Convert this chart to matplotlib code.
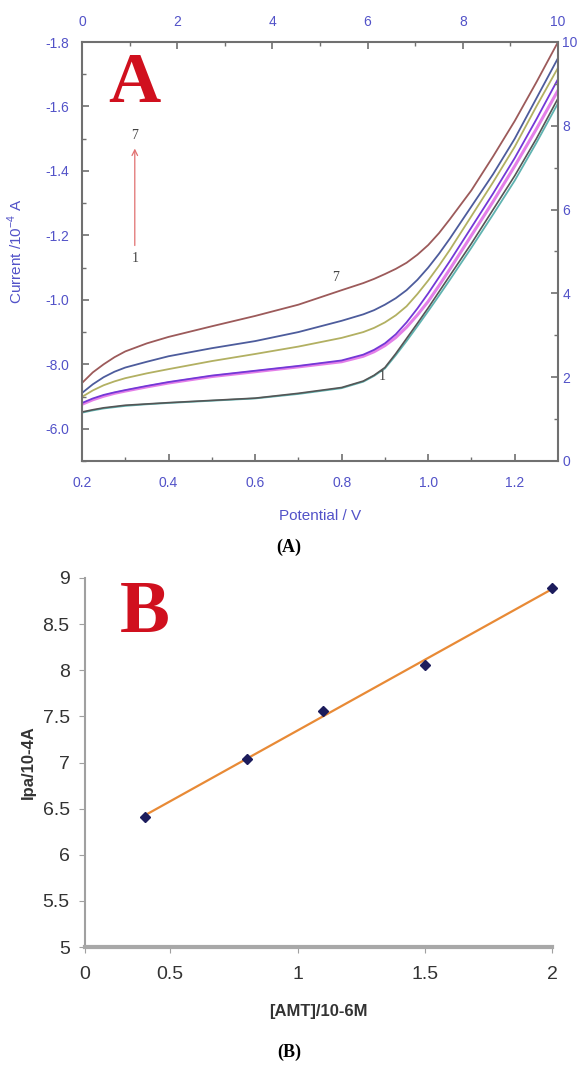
import numpy as np
import matplotlib.pyplot as plt

# ---- panel A data ----
pot = [0.2, 0.225, 0.25, 0.275, 0.3, 0.35, 0.4, 0.5, 0.6, 0.7, 0.8, 0.85, 0.875, 0.9,
       0.925, 0.95, 0.975, 1.0, 1.025, 1.05, 1.1, 1.15, 1.2, 1.25, 1.3]
cur_7 = [-0.742, -0.775, -0.800, -0.822, -0.840, -0.865, -0.885, -0.918, -0.950, -0.985,
         -1.030, -1.052, -1.065, -1.080, -1.096, -1.115, -1.140, -1.170, -1.207, -1.250,
         -1.340, -1.445, -1.555, -1.675, -1.800]
cur_6 = [-0.711, -0.738, -0.760, -0.777, -0.790, -0.808, -0.825, -0.850, -0.872, -0.900,
         -0.935, -0.955, -0.968, -0.985, -1.005, -1.030, -1.062, -1.100, -1.143, -1.190,
         -1.290, -1.390, -1.500, -1.625, -1.750]
cur_5 = [-0.699, -0.719, -0.735, -0.747, -0.757, -0.772, -0.785, -0.810, -0.832, -0.855,
         -0.882, -0.900, -0.913, -0.930, -0.952, -0.980, -1.018, -1.060, -1.106, -1.155,
         -1.260, -1.365, -1.475, -1.600, -1.720]
cur_4 = [-0.680, -0.694, -0.705, -0.713, -0.720, -0.733, -0.745, -0.765, -0.780, -0.795,
         -0.812, -0.830, -0.845, -0.865, -0.893, -0.930, -0.973, -1.020, -1.070, -1.120,
         -1.225, -1.330, -1.440, -1.560, -1.685]
cur_3 = [-0.676, -0.690, -0.701, -0.710, -0.717, -0.730, -0.742, -0.762, -0.777, -0.792,
         -0.808, -0.825, -0.839, -0.858, -0.883, -0.915, -0.953, -0.995, -1.044, -1.095,
         -1.200, -1.305, -1.415, -1.530, -1.650]
cur_2 = [-0.650, -0.657, -0.663, -0.667, -0.671, -0.676, -0.680, -0.687, -0.694, -0.708,
         -0.726, -0.746, -0.764, -0.787, -0.828, -0.872, -0.918, -0.965, -1.013, -1.062,
         -1.162, -1.265, -1.370, -1.487, -1.610]
cur_1 = [-0.652, -0.659, -0.665, -0.669, -0.673, -0.677, -0.681, -0.688, -0.695, -0.710,
         -0.728, -0.748, -0.766, -0.790, -0.833, -0.880, -0.927, -0.975, -1.025, -1.075,
         -1.175, -1.280, -1.385, -1.500, -1.625]
curves = [cur_2, cur_1, cur_3, cur_4, cur_5, cur_6, cur_7]
curve_colors = ['#5fb3b0', '#555555', '#e47fe8', '#7338d6', '#b2b062', '#4d5c9c', '#9c5a5a']
curve_widths = [1.3, 1.2, 2.2, 1.3, 1.3, 1.3, 1.3]

ytick_vals = [-1.8, -1.6, -1.4, -1.2, -1.0, -0.8, -0.6]
ytick_labels = ['-1.8', '-1.6', '-1.4', '-1.2', '-1.0', '-8.0', '-6.0']
xtick_vals = [0.2, 0.4, 0.6, 0.8, 1.0, 1.2]
xtick_labels = ['0.2', '0.4', '0.6', '0.8', '1.0', '1.2']

# ---- panel B data ----
amt = [0.4, 0.8, 1.1, 1.5, 2.0]
ipa = [6.41, 7.04, 7.56, 8.06, 8.89]
b_xticks = [0.165, 0.5, 1.0, 1.5, 2.0]
b_xlabels = ['0', '0.5', '1', '1.5', '2']
b_yticks = [5, 5.5, 6, 6.5, 7, 7.5, 8, 8.5, 9]
b_ylabels = ['5', '5.5', '6', '6.5', '7', '7.5', '8', '8.5', '9']

blue = '#5252c8'
W, H = 578, 1075

plt.rcParams['font.family'] = ['Liberation Sans', 'DejaVu Sans']
fig = plt.figure(figsize=(W / 100, H / 100), dpi=100)


def box(l, t, r, b):
    return [l / W, 1 - b / H, (r - l) / W, (b - t) / H]


# ================= panel A =================
ax = fig.add_axes(box(82, 42, 558, 461))
for c, col, lw in zip(curves, curve_colors, curve_widths):
    ax.plot(pot, c, '-', color=col, lw=lw)
ax.set_xlim(0.2, 1.3)
ax.set_ylim(-0.5, -1.8)
ax.set_xticks(xtick_vals)
ax.set_xticklabels(xtick_labels)
ax.set_xticks(np.arange(0.3, 1.3, 0.2), minor=True)
ax.set_yticks(ytick_vals)
ax.set_yticklabels(ytick_labels)
ax.set_yticks([-1.7, -1.5, -1.3, -1.1, -0.9, -0.7, -0.5], minor=True)
ax.tick_params(which='both', direction='in', colors='#707070', labelcolor=blue, labelsize=10)
ax.tick_params(which='major', length=5, width=1.2)
ax.tick_params(which='minor', length=3, width=1)
ax.tick_params(axis='x', pad=11)
ax.tick_params(axis='y', pad=9)
for s in ax.spines.values():
    s.set_color('#707070')
    s.set_linewidth(1.5)
ax.set_xlabel('Potential / V', color=blue, fontsize=11)
ax.xaxis.set_label_coords(0.5, -0.115)
ax.set_ylabel(r'Current /10$^{\mathregular{-4}}$ A', color=blue, fontsize=11)
ax.yaxis.set_label_coords(-0.12, 0.5)

axr = ax.twinx()
axr.set_ylim(0, 10)
axr.set_yticks([0, 2, 4, 6, 8, 10])
axr.set_yticks([1, 3, 5, 7, 9], minor=True)
axt = ax.twiny()
axt.set_xlim(0, 10)
axt.set_xticks([0, 2, 4, 6, 8, 10])
axt.set_xticks([1, 3, 5, 7, 9], minor=True)
for a in (axr, axt):
    a.tick_params(which='both', direction='in', colors='#707070', labelcolor=blue, labelsize=10)
    a.tick_params(which='major', length=5, width=1.2)
    a.tick_params(which='minor', length=3, width=1)
    for s in a.spines.values():
        s.set_visible(False)
axr.tick_params(axis='y', pad=3)
axt.tick_params(axis='x', pad=9)

# arrow and curve numbers
ax.annotate('', xy=(0.322, -1.478), xytext=(0.322, -1.16),
            arrowprops=dict(arrowstyle='->', color='#e07070', lw=0.9))
ax.text(0.322, -1.49, '7', ha='center', va='bottom', fontsize=10, color='#444444', family='Liberation Serif')
ax.text(0.322, -1.15, '1', ha='center', va='top', fontsize=10, color='#444444', family='Liberation Serif')
ax.text(0.785, -1.068, '7', ha='center', va='center', fontsize=10, color='#444444', family='Liberation Serif')
ax.text(0.893, -0.761, '1', ha='center', va='center', fontsize=10, color='#444444', family='Liberation Serif')

fig.text(108 / W, 1 - 102 / H, 'A', color='#d0101e', fontsize=52, fontweight='bold',
         family='Liberation Serif', ha='left', va='baseline')
fig.text(0.5, 1 - 547 / H, '(A)', fontsize=13, fontweight='bold', family='Liberation Serif',
         ha='center', va='center')

# ================= panel B =================
bx = fig.add_axes(box(85, 578, 552, 947))
fit = np.polyfit(amt, ipa, 1)
bx.plot([amt[0], amt[-1]], np.polyval(fit, [amt[0], amt[-1]]), '-', color='#e88a36', lw=1.6)
bx.plot(amt, ipa, 'D', color='#1c1c5c', ms=5, clip_on=False)
bx.set_xlim(b_xticks[0], 2.0)
bx.set_ylim(5, 9)
bx.set_xticks(b_xticks)
bx.set_xticklabels(b_xlabels)
bx.set_yticks(b_yticks)
bx.set_yticklabels(b_ylabels)
bx.spines['top'].set_visible(False)
bx.spines['right'].set_visible(False)
bx.spines['left'].set_color('#a0a0a0')
bx.spines['left'].set_linewidth(1.5)
bx.spines['bottom'].set_color('#a8a8a8')
bx.spines['bottom'].set_linewidth(3)
bx.tick_params(colors='#a0a0a0', labelcolor='#333333', labelsize=14, length=4)
bx.tick_params(axis='x', pad=10)
bx.tick_params(axis='y', pad=7)
bx.set_xlabel('[AMT]/10-6M', fontsize=12, fontweight='bold', color='#333333')
bx.xaxis.set_label_coords(0.5, -0.155)
bx.set_ylabel('Ipa/10-4A', fontsize=12, fontweight='bold', color='#333333')
bx.yaxis.set_label_coords(-0.105, 0.5)

fig.text(120 / W, 1 - 632 / H, 'B', color='#d0101e', fontsize=54, fontweight='bold',
         family='Liberation Serif', ha='left', va='baseline')
fig.text(0.5, 1 - 1052 / H, '(B)', fontsize=13, fontweight='bold', family='Liberation Serif',
         ha='center', va='center')

fig.savefig('out.png', dpi=100)
